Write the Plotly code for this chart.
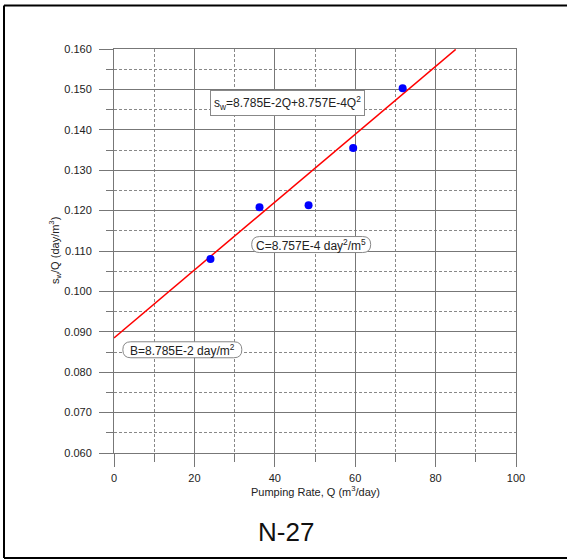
import plotly.graph_objects as go

# Data
pump_q = [24.0, 36.2, 48.4, 59.5, 71.8]
sw_over_q = [0.1080, 0.1208, 0.1213, 0.1355, 0.1503]

# fitted line end points as drawn
fit_q = [0.0, 85.0]
fit_y = [0.0885, 0.1599]

x_ticks = [0, 20, 40, 60, 80, 100]
y_ticks = [0.060, 0.070, 0.080, 0.090, 0.100, 0.110, 0.120, 0.130, 0.140, 0.150, 0.160]

eq_text = "s<sub>w</sub>=8.785E-2Q+8.757E-4Q<sup>2</sup>"
b_text = "B=8.785E-2 day/m<sup>2</sup>"
c_text = "C=8.757E-4 day<sup>2</sup>/m<sup>5</sup>"
well_name = "N-27"

FONT = "Liberation Sans, Arial, sans-serif"
GRID = "#777777"

fig = go.Figure()
fig.add_trace(go.Scatter(x=fit_q, y=fit_y, mode="lines",
                         line=dict(color="#ff0000", width=1.5), hoverinfo="skip"))
fig.add_trace(go.Scatter(x=pump_q, y=sw_over_q, mode="markers",
                         marker=dict(color="#0000ff", size=8), cliponaxis=False))

axis_common = dict(
    showgrid=True, gridcolor=GRID, gridwidth=1,
    showline=True, linecolor=GRID, linewidth=1, mirror=True,
    ticks="outside", tickcolor=GRID, tickwidth=1,
    zeroline=False,
    tickfont=dict(family=FONT, size=11, color="#222222"),
)

fig.update_xaxes(range=[0, 100], tickvals=x_ticks, ticklen=13, ticklabelstandoff=2,
                 minor=dict(dtick=10, tick0=0, ticks="outside", ticklen=8, tickcolor=GRID,
                            showgrid=True, gridcolor="#888888", griddash="3px,2px", gridwidth=1),
                 **axis_common)
fig.update_yaxes(range=[0.060, 0.160], tickvals=y_ticks, tickformat=".3f", ticklen=14,
                 ticklabelstandoff=5,
                 minor=dict(dtick=0.005, tick0=0.06, ticks="outside", ticklen=7, tickcolor=GRID,
                            showgrid=True, gridcolor="#888888", griddash="3px,2px", gridwidth=1),
                 **axis_common)

def rounded(xc, yc, w, h):
    hw, hh = w / 2.0, h / 2.0
    r = hh
    path = (f"M {-hw + r},{-hh} L {hw - r},{-hh} Q {hw},{-hh} {hw},0 Q {hw},{hh} {hw - r},{hh} "
            f"L {-hw + r},{hh} Q {-hw},{hh} {-hw},0 Q {-hw},{-hh} {-hw + r},{-hh} Z")
    return dict(type="path", xref="x", yref="y", xsizemode="pixel", ysizemode="pixel",
                xanchor=xc, yanchor=yc, path=path, line=dict(color="#888888", width=1),
                fillcolor="white", layer="above")

fx0 = (4 - 114) / 402
fx1 = (700 - 114) / 402
fy0 = (453 - 558) / 404
fy1 = (453 - 5.5) / 404
frame_line = dict(color="black", width=2)
shapes = [
    rounded(17.0, 0.08555, 119, 16),
    rounded(49.05, 0.1116, 119, 16),
    # outer frame: left, top, bottom (no right side visible)
    dict(type="line", xref="paper", yref="paper", x0=fx0, x1=fx0, y0=fy0, y1=fy1,
         line=frame_line, layer="above"),
    dict(type="line", xref="paper", yref="paper", x0=fx0, x1=fx1, y0=fy1, y1=fy1,
         line=frame_line, layer="above"),
    dict(type="line", xref="paper", yref="paper", x0=fx0, x1=fx1, y0=fy0, y1=fy0,
         line=frame_line, layer="above"),
]

annotations = [
    dict(x=43.16, y=0.1466, xref="x", yref="y", text=eq_text, showarrow=False,
         xanchor="center", yanchor="middle",
         font=dict(family=FONT, size=12, color="#222222"), bgcolor="white",
         bordercolor="#888888", borderwidth=1, borderpad=3),
    dict(x=17.0, y=0.08555, xref="x", yref="y", text=b_text, showarrow=False,
         xanchor="center", yanchor="middle",
         font=dict(family=FONT, size=12, color="#222222")),
    dict(x=49.05, y=0.1116, xref="x", yref="y", text=c_text, showarrow=False,
         xanchor="center", yanchor="middle",
         font=dict(family=FONT, size=12, color="#222222")),
    dict(x=0.5, y=(453 - 490.5) / 404, xref="paper", yref="paper",
         xanchor="center", yanchor="middle",
         text="Pumping Rate, Q (m<sup>3</sup>/day)", showarrow=False,
         font=dict(family=FONT, size=11, color="#222222")),
    dict(x=(55 - 114) / 402, y=0.5, xref="paper", yref="paper", textangle=-90,
         xanchor="center", yanchor="middle",
         text="s<sub>w</sub>/Q (day/m<sup>3</sup>)", showarrow=False,
         font=dict(family=FONT, size=11, color="#222222")),
    dict(x=(286 - 114) / 402, y=(453 - 532) / 404, xref="paper", yref="paper",
         xanchor="center", yanchor="middle",
         text=well_name, showarrow=False,
         font=dict(family=FONT, size=26, color="#111111")),
]

fig.update_layout(
    width=567, height=559,
    margin=dict(l=114, r=51, t=49, b=106),
    paper_bgcolor="white", plot_bgcolor="white",
    showlegend=False,
    shapes=shapes, annotations=annotations,
)

fig.write_html("out.html", config={"displayModeBar": False},
               post_script="document.body.style.margin='0';document.body.style.overflow='hidden';")
